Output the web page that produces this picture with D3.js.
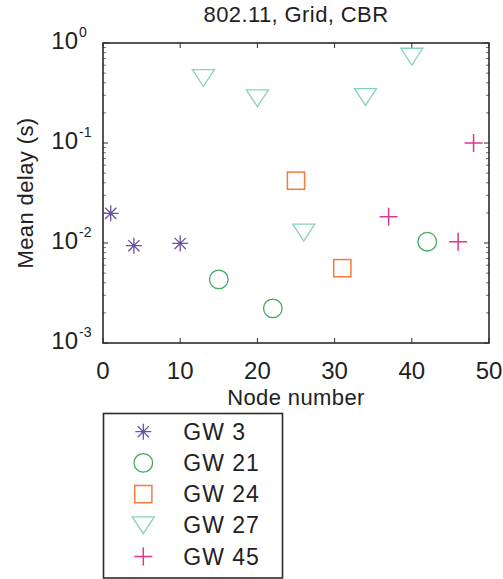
<!DOCTYPE html>
<html>
<head>
<meta charset="utf-8">
<script src="https://cdn.jsdelivr.net/npm/d3@7"></script>
<style>
  body { margin: 0; background: #fff; }
  text { font-family: "Liberation Sans", Arial, sans-serif; fill: #222; }
</style>
</head>
<body>
<div id="chart"></div>
<script>
// node numbers and mean delays, one pair of arrays per gateway
const gw3X = [1, 4, 10];
const gw3Y = [0.0198, 0.0094, 0.0099];
const gw21X = [15, 22, 42];
const gw21Y = [0.00433, 0.00222, 0.0103];
const gw24X = [25, 31];
const gw24Y = [0.042, 0.0056];
const gw27X = [13, 20, 26, 34, 40];
const gw27Y = [0.447, 0.28, 0.0127, 0.288, 0.73];
const gw45X = [37, 46, 48];
const gw45Y = [0.0183, 0.0103, 0.1];

const seriesNames = ['GW 3', 'GW 21', 'GW 24', 'GW 27', 'GW 45'];
const xTicks = [0, 10, 20, 30, 40, 50];
const yTickExps = [0, -1, -2, -3];

const series = [
  { name: seriesNames[0], xs: gw3X, ys: gw3Y, marker: 'star', color: '#6a51a3' },
  { name: seriesNames[1], xs: gw21X, ys: gw21Y, marker: 'circle', color: '#41ab5d' },
  { name: seriesNames[2], xs: gw24X, ys: gw24Y, marker: 'square', color: '#f47b3b' },
  { name: seriesNames[3], xs: gw27X, ys: gw27Y, marker: 'tri', color: '#86d3b9' },
  { name: seriesNames[4], xs: gw45X, ys: gw45Y, marker: 'plus', color: '#dd3497' },
];

const W = 503, H = 579;
const L = 103, R = 489, T = 43, B = 343;
const axisColor = '#2b2b2b';

const svg = d3.select('#chart').append('svg')
  .attr('width', W)
  .attr('height', H);

const x = d3.scaleLinear().domain([0, 50]).range([L, R]);
const y = d3.scaleLog().domain([1e-3, 1]).range([B, T]);

// marker drawing
function drawMarker(g, type, color) {
  const sw = 1.3;
  if (type === 'star') {
    const r = 8;
    g.append('path')
      .attr('d', `M${-r},0H${r}M0,${-r}V${r}M${-r * 0.7},${-r * 0.7}L${r * 0.7},${r * 0.7}M${-r * 0.7},${r * 0.7}L${r * 0.7},${-r * 0.7}`)
      .attr('stroke', color).attr('stroke-width', sw).attr('fill', 'none');
  } else if (type === 'circle') {
    g.append('circle').attr('r', 9.3)
      .attr('stroke', color).attr('stroke-width', sw).attr('fill', 'none');
  } else if (type === 'square') {
    g.append('rect').attr('x', -8.6).attr('y', -8.6).attr('width', 17.2).attr('height', 17.2)
      .attr('stroke', color).attr('stroke-width', sw + 0.2).attr('fill', 'none');
  } else if (type === 'tri') {
    g.append('path').attr('d', 'M-11,-8.4L11,-8.4L0,8.4Z')
      .attr('stroke', color).attr('stroke-width', sw).attr('fill', 'none');
  } else if (type === 'plus') {
    const r = 9;
    g.append('path').attr('d', `M${-r},0H${r}M0,${-r}V${r}`)
      .attr('stroke', color).attr('stroke-width', sw + 0.2).attr('fill', 'none');
  }
}

// ticks (inside), minor log ticks on both sides
const tickG = svg.append('g').attr('stroke', axisColor).attr('stroke-width', 1);
xTicks.forEach(t => {
  tickG.append('line').attr('x1', x(t)).attr('x2', x(t)).attr('y1', B).attr('y2', B - 5);
  tickG.append('line').attr('x1', x(t)).attr('x2', x(t)).attr('y1', T).attr('y2', T + 5);
});
yTickExps.forEach(e => {
  const v = Math.pow(10, e);
  tickG.append('line').attr('x1', L).attr('x2', L + 5).attr('y1', y(v)).attr('y2', y(v));
  tickG.append('line').attr('x1', R).attr('x2', R - 5).attr('y1', y(v)).attr('y2', y(v));
});
y.ticks().filter(v => Math.abs(Math.log10(v) - Math.round(Math.log10(v))) > 1e-6).forEach(v => {
  tickG.append('line').attr('x1', L).attr('x2', L + 3).attr('y1', y(v)).attr('y2', y(v)).attr('stroke', '#777');
  tickG.append('line').attr('x1', R).attr('x2', R - 3).attr('y1', y(v)).attr('y2', y(v)).attr('stroke', '#666');
});

// box
svg.append('rect')
  .attr('x', L).attr('y', T)
  .attr('width', R - L).attr('height', B - T)
  .attr('fill', 'none')
  .attr('stroke', axisColor)
  .attr('stroke-width', 1.6);

// tick labels
svg.append('g').selectAll('text')
  .data(xTicks)
  .enter()
  .append('text')
  .attr('x', d => x(d))
  .attr('y', 379)
  .attr('text-anchor', 'middle')
  .attr('font-size', 24)
  .text(d => d);

const yLab = svg.append('g').selectAll('g')
  .data(yTickExps)
  .enter()
  .append('g')
  .attr('transform', d => `translate(0, ${y(Math.pow(10, d))})`);
yLab.append('text')
  .attr('x', 78).attr('y', 6)
  .attr('text-anchor', 'end')
  .attr('font-size', 24)
  .text('10');
yLab.append('text')
  .attr('x', 79).attr('y', -6)
  .attr('font-size', 14)
  .text(d => d);

// axis titles
svg.append('text')
  .attr('x', 296).attr('y', 22)
  .attr('text-anchor', 'middle')
  .attr('font-size', 22)
  .attr('letter-spacing', 0.4)
  .text('802.11, Grid, CBR');
svg.append('text')
  .attr('x', 296).attr('y', 405)
  .attr('text-anchor', 'middle')
  .attr('font-size', 22)
  .attr('letter-spacing', 0.4)
  .text('Node number');
svg.append('text')
  .attr('transform', `translate(33, ${(T + B) / 2}) rotate(-90)`)
  .attr('text-anchor', 'middle')
  .attr('font-size', 22)
  .attr('letter-spacing', 0.4)
  .text('Mean delay (s)');

// points
series.forEach(s => {
  const pts = s.xs.map((v, i) => [v, s.ys[i]]);
  svg.append('g').selectAll('g')
    .data(pts)
    .enter()
    .append('g')
    .attr('transform', d => `translate(${x(d[0])}, ${y(d[1])})`)
    .each(function () { drawMarker(d3.select(this), s.marker, s.color); });
});

// legend
const leg = svg.append('g');
leg.append('rect')
  .attr('x', 103.5).attr('y', 413.5)
  .attr('width', 179).attr('height', 164.5)
  .attr('fill', '#fff')
  .attr('stroke', axisColor)
  .attr('stroke-width', 1.6);
const legRows = leg.selectAll('g.row')
  .data(series)
  .enter()
  .append('g')
  .attr('class', 'row')
  .attr('transform', (d, i) => `translate(143.3, ${431.7 + i * 31.2})`);
legRows.each(function (d) { drawMarker(d3.select(this), d.marker, d.color); });
legRows.append('text')
  .attr('x', 40).attr('y', 8)
  .attr('font-size', 23)
  .attr('letter-spacing', 1)
  .text(d => d.name);
</script>
</body>
</html>
